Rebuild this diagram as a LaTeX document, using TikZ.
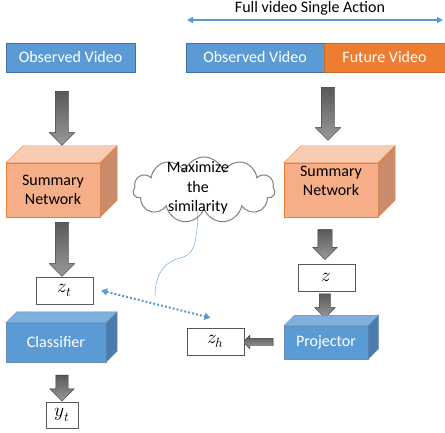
\documentclass[tikz,border=0pt]{standalone}
\usepackage{fontspec}
\usepackage{unicode-math}
\setmainfont{Carlito}
\setmathfont{Latin Modern Math}
\usepackage{tikz}
\usetikzlibrary{arrows.meta,calc,shapes.arrows,shapes.symbols}
\definecolor{vidblue}{HTML}{5B9BD5}
\definecolor{vidblueline}{HTML}{41719C}
\definecolor{futorange}{HTML}{ED7D31}
\definecolor{sumfront}{HTML}{F5AE88}
\definecolor{sumtop}{HTML}{F8CCB2}
\definecolor{sumside}{HTML}{C98B6C}
\definecolor{clstop}{HTML}{7DAFDF}
\definecolor{clsside}{HTML}{4A7DAE}
\newcommand{\cubefaces}[5]{% node, depth, top, side, line
  \filldraw[fill=#3,draw=#5] (#1.north west) -- ++(#2,-#2) -- ($(#1.north east)+(#2,-#2)$) -- (#1.north east) -- cycle;
  \filldraw[fill=#4,draw=#5] (#1.north east) -- ++(#2,-#2) -- ($(#1.south east)+(#2,-#2)$) -- (#1.south east) -- cycle;
}
\tikzset{
  vidbox/.style={draw=vidblueline,fill=vidblue,text=white,minimum height=29pt,inner sep=0pt},
  futbox/.style={draw=futorange!85!black,fill=futorange,text=white,minimum height=29pt,inner sep=0pt},
  sumbox/.style={draw=futorange,fill=sumfront,minimum width=94pt,minimum height=54pt,align=center,inner sep=0pt},
  netbox/.style={draw=vidblueline!80,fill=vidblue,text=white,inner sep=0pt},
  vecbox/.style={draw=black!65,fill=white,minimum width=57pt,minimum height=27pt,inner sep=0pt,
    font=\fontsize{19}{23}\selectfont},
  blk/.style={single arrow,draw=black!80,top color=black!65,bottom color=black!40,inner xsep=0pt,
    inner ysep=6.5pt,single arrow head extend=6pt},
  simarrow/.style={vidblue,line width=2pt,dash pattern=on 2pt off 2pt,{Triangle[length=6pt,width=7pt]}-{Triangle[length=6pt,width=7pt]}},
}
\begin{document}
\begin{tikzpicture}[x=1pt,y=-1pt,font=\fontsize{16}{19.5}\selectfont]
  \useasboundingbox (0,0) rectangle (445,433);

  % full video
  \coordinate (fullL) at (187,20);
  \coordinate (fullR) at (443,20);
  \draw[vidblue,line width=1.5pt,{Triangle[length=6pt,width=6pt]}-{Triangle[length=6pt,width=6pt]}] (fullL) -- (fullR);
  \node (fulltxt) at (310,8) {Full video Single Action};

  % inputs
  \node[vidbox,minimum width=129pt] (obsL) at (70.5,57.5) {Observed Video};
  \node[vidbox,minimum width=138pt] (obsR) at (255,57.5) {Observed Video};
  \node[futbox,minimum width=121pt] (futR) at (384.5,57.5) {Future Video};

  % summary networks
  \node[sumbox] (sumL) at (53,190) {Summary\\Network};
  \cubefaces{sumL}{17}{sumtop}{sumside}{futorange}
  \node[sumbox] (sumR) at (331,190) {};
  \cubefaces{sumR}{17}{sumtop}{sumside}{futorange}
  \node[align=center] (sumRtxt) at (331,181) {Summary\\Network};

  % left branch
  \node[blk,minimum height=54pt,rotate=-90] (arL1) at (62,115) {};
  \node[blk,minimum height=54pt,rotate=-90] (arL2) at (62,246) {};
  \node[vecbox] (zt) at (64.5,290.5) {$z_t$};
  \node[netbox,minimum width=100pt,minimum height=39pt] (cls) at (56,342.5) {Classifier};
  \cubefaces{cls}{11}{clstop}{clsside}{vidblueline!80}
  \node[blk,minimum height=26pt,inner ysep=6pt,rotate=-90] (arL3) at (62,385) {};
  \node[vecbox,minimum width=32pt,minimum height=26pt] (yt) at (62,415) {$y_t$};

  % right branch
  \node[blk,minimum height=53pt,rotate=-90] (arR1) at (328,110.5) {};
  \node[blk,minimum height=30pt,inner ysep=7pt,single arrow head extend=5pt,rotate=-90] (arR2) at (325,241) {};
  \node[vecbox] (z) at (326.5,277.5) {$z$};
  \node[blk,minimum height=24pt,inner ysep=5.5pt,single arrow head extend=4.5pt,rotate=-90] (arR3) at (325,303) {};
  \node[netbox,minimum width=84pt,minimum height=33pt] (proj) at (326,342.5) {Projector};
  \cubefaces{proj}{10.5}{clstop}{clsside}{vidblueline!80}
  \node[blk,minimum height=30pt,inner ysep=3.5pt,single arrow head extend=3pt,rotate=180] (arP) at (260,342) {};
  \node[vecbox] (zh) at (215.5,341.5) {$z_h$};

  % similarity
  \draw[simarrow] ($(zt.east)+(8,0)$) -- ($(zh.north)+(-5,-10)$);
  \node[cloud,cloud puffs=11,aspect=2.2,draw=black!50,line width=1pt,fill=white,minimum width=142pt,minimum height=66pt] (cloud) at (204,190) {};
  \node[align=center] (simtxt) at (198,188) {Maximize\\the\\similarity};
  \coordinate (tailend) at (155,297);
  \draw[vidblue,thin] ($(cloud.south)+(-6,0)$) .. controls (197,250) and (192,255) .. (180,258)
    .. controls (160,263) and (155,280) .. (tailend);
\end{tikzpicture}
\end{document}
